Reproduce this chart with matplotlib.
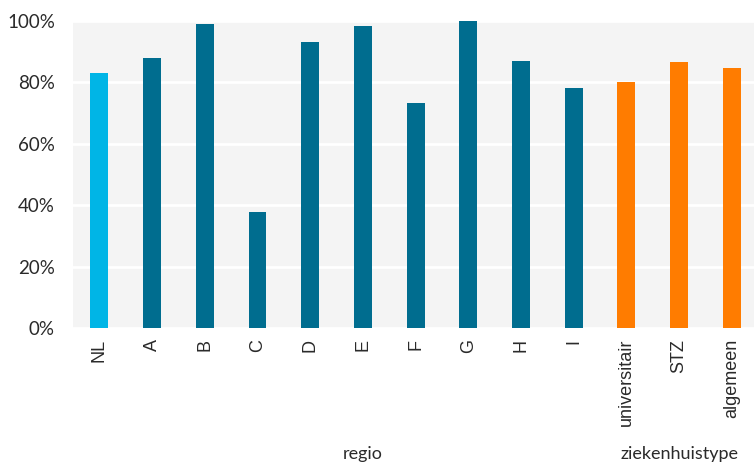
import numpy as np
import matplotlib
matplotlib.use("Agg")
import matplotlib.pyplot as plt
import matplotlib.transforms as mtransforms

# --- data ---
categories = ['NL', 'A', 'B', 'C', 'D', 'E', 'F', 'G', 'H', 'I',
              'universitair', 'STZ', 'algemeen']
values = [83.1, 87.9, 99.0, 37.8, 93.2, 98.4, 73.3, 100.0, 87.0, 78.2,
          80.1, 86.6, 84.7]
groups = ['nl', 'regio', 'regio', 'regio', 'regio', 'regio', 'regio', 'regio',
          'regio', 'regio', 'type', 'type', 'type']
group_labels = {'regio': 'regio', 'type': 'ziekenhuistype'}
yticks = [0, 20, 40, 60, 80, 100]

COLORS = {'nl': '#00b5e6', 'regio': '#006d8f', 'type': '#ff7c00'}
LABEL_FONT = ['Lato', 'DejaVu Sans']

fig = plt.figure(figsize=(7.54, 4.65), dpi=100)
ax = fig.add_axes([0.0968, 0.2946, 0.9032, 0.6602])

x = np.arange(len(categories))
ax.bar(x, values, width=0.34, color=[COLORS[g] for g in groups], zorder=3)

ax.set_facecolor('#f4f4f4')
ax.set_xlim(-0.5, len(categories) - 0.58)
ax.set_ylim(0, 100)
ax.set_yticks(yticks)
ax.set_yticklabels([f'{t}%' for t in yticks], family=LABEL_FONT, fontsize=13.5,
                   color='#2a2a2a')
ax.yaxis.grid(True, color='white', linewidth=2, zorder=1)
ax.set_xticks(x)
ax.set_xticklabels(categories, rotation=90, family=['Liberation Sans', 'DejaVu Sans'],
                   fontsize=13, color='#2a2a2a')
ax.tick_params(length=0)
ax.tick_params(axis='y', pad=13)
ax.tick_params(axis='x', pad=8)
for s in ax.spines.values():
    s.set_visible(False)

# group captions under the tick labels
trans = mtransforms.blended_transform_factory(ax.transData, fig.transFigure)
for key, name in group_labels.items():
    idx = [i for i, g in enumerate(groups) if g == key]
    ax.text(np.mean(idx), 0.024, name, transform=trans, ha='center',
            va='center', family=LABEL_FONT, fontsize=13, color='#2a2a2a')

fig.savefig('out.png', dpi=100)
